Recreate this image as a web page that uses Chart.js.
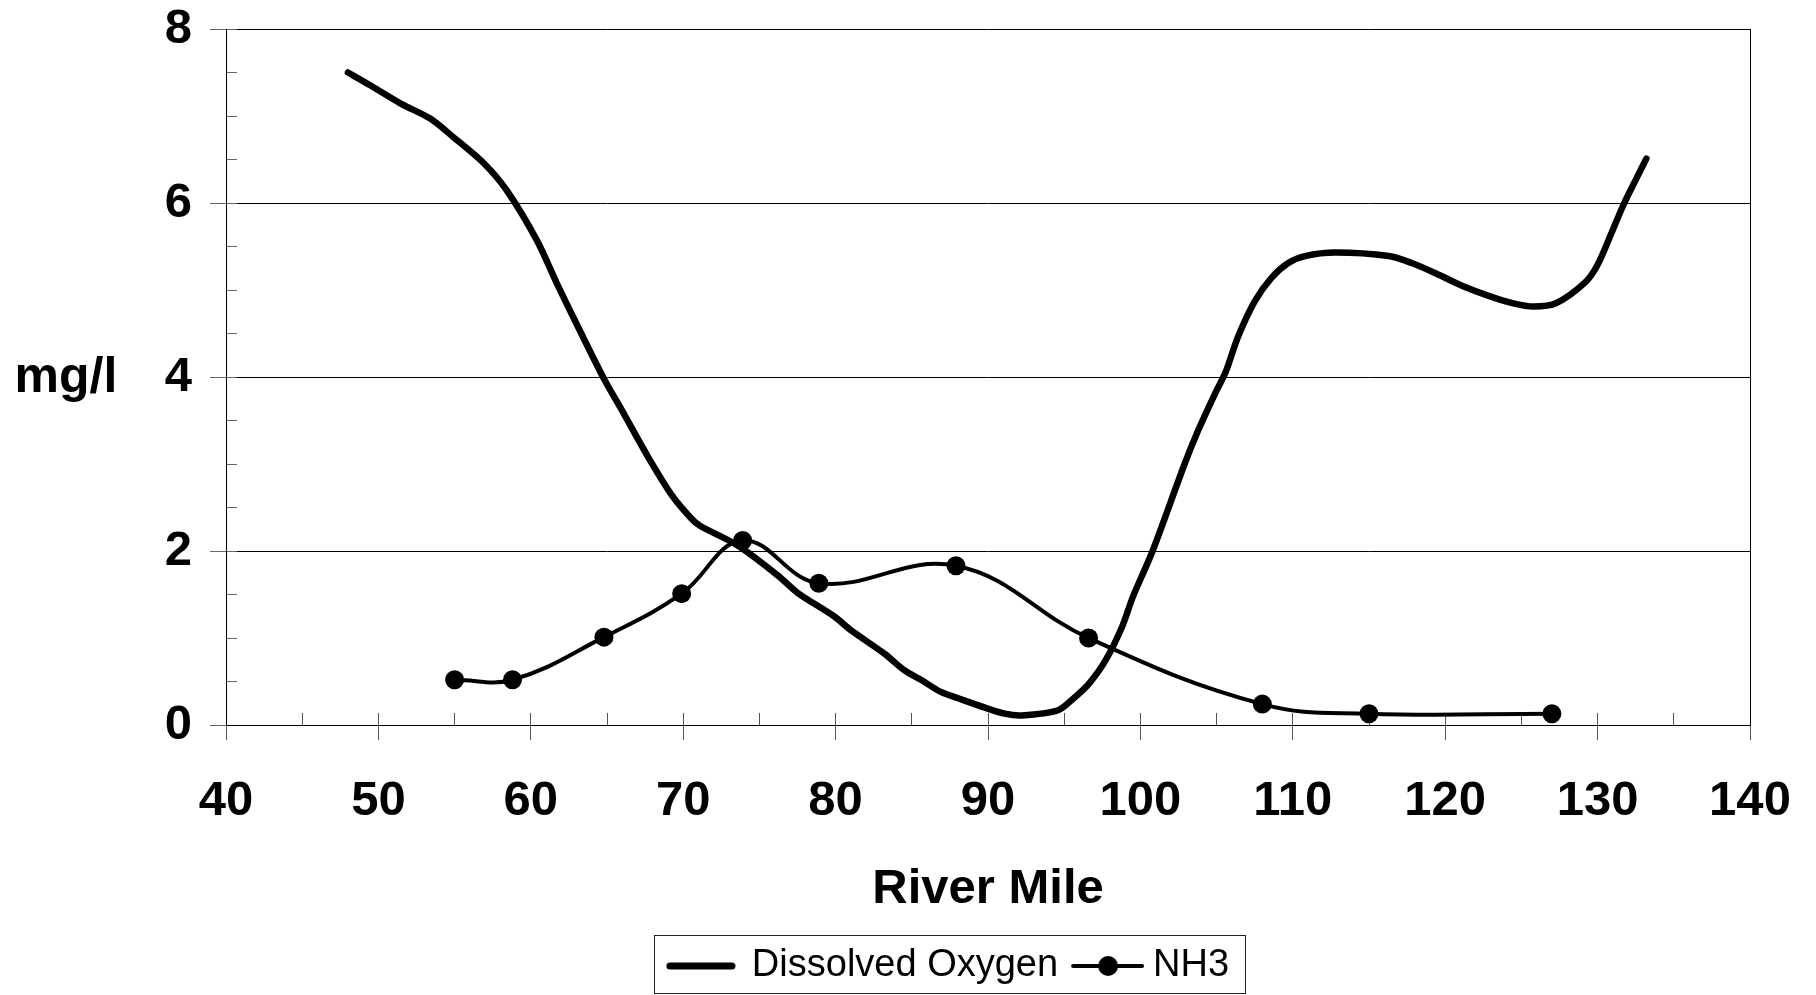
<!DOCTYPE html>
<html>
<head>
<meta charset="utf-8">
<script src="https://cdn.jsdelivr.net/npm/chart.js@4.4.0/dist/chart.umd.min.js"></script>
<style>
  html, body { margin: 0; padding: 0; background: #fff; overflow: hidden; }
  #wrap { width: 1816px; height: 995px; }
</style>
</head>
<body>
<div id="wrap"><canvas id="chart_river"></canvas></div>
<script>
// Dissolved oxygen profile (river mile, mg/l)
const doMiles = [48.0, 49.4, 51.5, 53.4, 54.9, 56.9, 58.4, 60.4, 61.7, 63.2, 64.8, 66.1, 67.7, 69.3, 70.5, 71.1,
  73.6, 76.2, 77.5, 79.9, 81.0, 83.2, 84.5, 85.6, 86.9, 88.0, 89.8, 91.1, 92.2, 94.6, 95.7, 96.6, 97.7, 98.8,
  99.5, 100.8, 102.9, 103.8, 104.9, 105.6, 106.4, 107.5, 108.6, 109.7, 110.8, 112.8, 116.3, 117.8, 119.4,
  121.1, 122.9, 124.4, 125.8, 127.3, 129.2, 130.0, 130.9, 131.7, 132.6, 133.2];
const doValues = [7.50, 7.36, 7.14, 6.97, 6.76, 6.46, 6.15, 5.57, 5.08, 4.54, 3.98, 3.58, 3.08, 2.63, 2.38, 2.29,
  2.06, 1.72, 1.52, 1.25, 1.09, 0.82, 0.63, 0.52, 0.38, 0.31, 0.20, 0.13, 0.11, 0.17, 0.32, 0.47, 0.74, 1.13,
  1.47, 2.00, 3.00, 3.39, 3.81, 4.06, 4.46, 4.87, 5.14, 5.31, 5.39, 5.43, 5.39, 5.31, 5.19,
  5.05, 4.93, 4.85, 4.81, 4.85, 5.09, 5.29, 5.65, 5.98, 6.30, 6.51];

// NH3 samples
const nh3Miles = [55.0, 58.8, 64.8, 69.9, 73.9, 78.9, 87.9, 96.6, 108.0, 115.0, 127.0];
const nh3Values = [0.52, 0.52, 1.01, 1.51, 2.12, 1.63, 1.83, 1.00, 0.24, 0.13, 0.13];

const seriesNames = ['Dissolved Oxygen', 'NH3'];
const xTitle = 'River Mile';
const yTitle = 'mg/l';

const fontFamily = "'Liberation Sans', Arial, Helvetica, sans-serif";
Chart.defaults.font.family = fontFamily;
Chart.defaults.color = '#000';

// legend symbols: thick line, and line with a dot
function makeIcon(kind){
  const c = document.createElement('canvas');
  const g = c.getContext('2d');
  if(kind == 'line'){
    c.width = 70; c.height = 12;
    g.strokeStyle = '#000';
    g.lineWidth = 7;
    g.lineCap = 'round';
    g.beginPath(); g.moveTo(4, 6); g.lineTo(66, 6); g.stroke();
  } else {
    c.width = 84; c.height = 22;
    g.strokeStyle = '#000';
    g.fillStyle = '#000';
    g.lineWidth = 4;
    g.lineCap = 'round';
    g.beginPath(); g.moveTo(13, 11); g.lineTo(82, 11); g.stroke();
    g.beginPath(); g.arc(48, 11, 10, 0, Math.PI * 2); g.fill();
  }
  return c;
}
const legendIcons = [makeIcon('line'), makeIcon('dot')];

const riverDecor = {
  id: 'riverDecor',
  afterDraw(chart){
    const ctx = chart.ctx;
    ctx.save();
    // horizontal y title
    ctx.font = 'bold 50px ' + fontFamily;
    ctx.fillStyle = '#000';
    ctx.textAlign = 'center';
    ctx.textBaseline = 'alphabetic';
    ctx.fillText(yTitle, 66, 392);

    // frame round the legend
    const lg = chart.legend;
    const hb = lg.legendHitBoxes;
    if(hb && hb.length){
      const last = hb[hb.length - 1];
      const left = Math.round(hb[0].left - 15) + 0.5;
      const right = Math.round(last.left + last.width + 16) + 0.5;
      const top = Math.round(lg.top) + 0.5;
      ctx.strokeStyle = '#222';
      ctx.lineWidth = 1;
      ctx.strokeRect(left, top, right - left, chart.height - 1.5 - top);
    }
    ctx.restore();
  }
};

new Chart(
  document.getElementById('chart_river'),
  {
    type: 'line',
    data: {
      datasets: [
        {
          label: seriesNames[0],
          data: doMiles.map((m, i) => ({x: m, y: doValues[i]})),
          borderColor: '#000',
          backgroundColor: '#000',
          borderWidth: 6.5,
          pointRadius: 0,
          tension: 0.3,
          borderCapStyle: 'round',
          borderJoinStyle: 'round',
          fill: false
        },
        {
          label: seriesNames[1],
          data: nh3Miles.map((m, i) => ({x: m, y: nh3Values[i]})),
          borderColor: '#000',
          backgroundColor: '#000',
          borderWidth: 4,
          pointRadius: 9.5,
          pointBorderWidth: 0,
          pointBackgroundColor: '#000',
          tension: 0.4,
          borderJoinStyle: 'round',
          fill: false
        }
      ]
    },
    options: {
      responsive: true,
      maintainAspectRatio: false,
      animation: false,
      events: [],
      layout: {
        padding: {left: 82, right: 0, top: 29, bottom: 0}
      },
      scales: {
        x: {
          type: 'linear',
          position: 'bottom',
          weight: 1,
          min: 40,
          max: 140,
          ticks: {
            stepSize: 10,
            color: '#000',
            padding: 32,
            maxRotation: 0,
            autoSkip: false,
            font: {size: 49, weight: 'bold'}
          },
          grid: {
            drawOnChartArea: false,
            tickLength: 15,
            tickColor: '#555'
          },
          border: {display: true, color: '#000', width: 1},
          title: {
            display: true,
            text: xTitle,
            color: '#000',
            padding: {top: 0, bottom: 16},
            font: {size: 49, weight: 'bold'}
          },
          afterFit: (scale) => {
            scale.height = 210;
            scale.paddingLeft = 0;
            scale.paddingRight = 0;
          }
        },
        xMinor: {
          type: 'linear',
          position: 'bottom',
          weight: 0,
          min: 40,
          max: 140,
          ticks: {stepSize: 5, display: false, autoSkip: false},
          grid: {drawOnChartArea: false, tickLength: -12, tickColor: '#555'},
          border: {display: false},
          afterFit: (scale) => {
            scale.height = 0;
            scale.paddingLeft = 0;
            scale.paddingRight = 0;
          }
        },
        y: {
          type: 'linear',
          position: 'left',
          weight: 1,
          min: 0,
          max: 8,
          ticks: {
            stepSize: 2,
            color: '#000',
            padding: 18,
            font: {size: 49, weight: 'bold'}
          },
          grid: {
            color: '#000',
            lineWidth: 1,
            tickLength: 16,
            tickColor: '#666'
          },
          border: {display: true, color: '#000', width: 1},
          afterFit: (scale) => {
            scale.width = 144;
            scale.paddingTop = 0;
            scale.paddingBottom = 0;
          }
        },
        yMinor: {
          type: 'linear',
          position: 'left',
          weight: 0,
          min: 0,
          max: 8,
          ticks: {stepSize: 0.5, display: false},
          grid: {drawOnChartArea: false, tickLength: -11, tickColor: '#666'},
          border: {display: false},
          afterFit: (scale) => { scale.width = 0; }
        },
        yRight: {
          type: 'linear',
          position: 'right',
          min: 0,
          max: 8,
          ticks: {display: false},
          grid: {drawOnChartArea: false, drawTicks: false},
          border: {display: true, color: '#000', width: 1},
          afterFit: (scale) => { scale.width = 66; }
        }
      },
      plugins: {
        tooltip: {enabled: false},
        legend: {
          display: true,
          position: 'bottom',
          labels: {
            usePointStyle: true,
            pointStyleWidth: 64,
            padding: 12,
            color: '#000',
            font: {size: 38},
            generateLabels: (chart) => chart.data.datasets.map((ds, i) => ({
              text: ds.label,
              datasetIndex: i,
              pointStyle: legendIcons[i],
              fillStyle: '#000',
              strokeStyle: '#000',
              lineWidth: 0,
              hidden: false
            }))
          }
        }
      }
    },
    plugins: [riverDecor]
  }
);
</script>
</body>
</html>
